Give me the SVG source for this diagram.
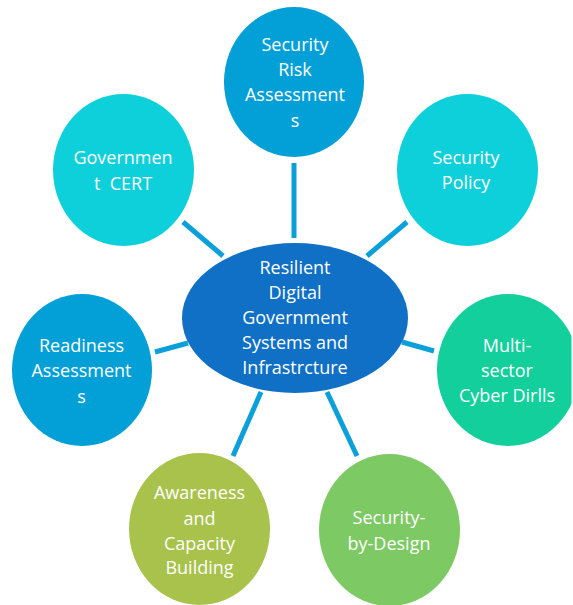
<svg xmlns="http://www.w3.org/2000/svg" width="573" height="605" viewBox="0 0 573 605">
<defs>
<style>
.t{font-family:"Open Sans","Noto Sans","Liberation Sans",sans-serif;font-size:18px;fill:#ffffff;text-anchor:middle}
.c{stroke:#0ba0d9;stroke-width:5;fill:none}
</style>
<clipPath id="clip"><rect x="0" y="0" width="571.5" height="605"/></clipPath>
</defs>
<rect width="573" height="605" fill="#ffffff"/>
<g id="connectors">
<line class="c" x1="294" y1="163" x2="294" y2="238"/>
<line class="c" x1="183" y1="222" x2="223" y2="256"/>
<line class="c" x1="407" y1="222" x2="367" y2="256"/>
<line class="c" x1="155" y1="352" x2="188" y2="343"/>
<line class="c" x1="402" y1="342" x2="434" y2="351"/>
<line class="c" x1="261" y1="392" x2="233" y2="456"/>
<line class="c" x1="327" y1="392" x2="357" y2="456"/>
</g>
<g id="center">
<ellipse cx="295" cy="318" rx="113" ry="75" fill="#1070c6"/>
<text class="t" x="295" y="274">Resilient</text>
<text class="t" x="295" y="299">Digital</text>
<text class="t" x="295" y="324">Government</text>
<text class="t" x="295" y="349">Systems and</text>
<text class="t" x="295" y="374">Infrastrcture</text>
</g>
<g id="risk">
<ellipse cx="294" cy="82" rx="70" ry="75" fill="#03a0d8"/>
<text class="t" x="295" y="51">Security</text>
<text class="t" x="295" y="76">Risk</text>
<text class="t" x="295" y="101">Assessment</text>
<text class="t" x="295" y="127">s</text>
</g>
<g id="cert">
<ellipse cx="123.5" cy="170" rx="70.5" ry="76" fill="#0ed0da"/>
<text class="t" x="123" y="164">Governmen</text>
<text class="t" x="123" y="190" xml:space="preserve">t  CERT</text>
</g>
<g id="policy">
<ellipse cx="467.5" cy="170" rx="70.5" ry="76" fill="#0ed0da"/>
<text class="t" x="466" y="164">Security</text>
<text class="t" x="466" y="189">Policy</text>
</g>
<g id="readiness">
<ellipse cx="82" cy="370" rx="70" ry="76" fill="#03a0d8"/>
<text class="t" x="81.5" y="352">Readiness</text>
<text class="t" x="81.5" y="377">Assessment</text>
<text class="t" x="81.5" y="403">s</text>
</g>
<g id="multisector">
<ellipse cx="508" cy="370" rx="71" ry="76" fill="#12cf9c" clip-path="url(#clip)"/>
<text class="t" x="507" y="352">Multi-</text>
<text class="t" x="507" y="377">sector</text>
<text class="t" x="507" y="402">Cyber Dirlls</text>
</g>
<g id="awareness">
<ellipse cx="199.5" cy="529" rx="70.5" ry="76" fill="#a8c24c"/>
<text class="t" x="199.5" y="499">Awareness</text>
<text class="t" x="199.5" y="525">and</text>
<text class="t" x="199.5" y="550">Capacity</text>
<text class="t" x="199.5" y="574">Building</text>
</g>
<g id="sbd">
<ellipse cx="389.5" cy="530" rx="70.5" ry="76" fill="#7dc963"/>
<text class="t" x="389" y="524">Security-</text>
<text class="t" x="389" y="550">by-Design</text>
</g>
</svg>
